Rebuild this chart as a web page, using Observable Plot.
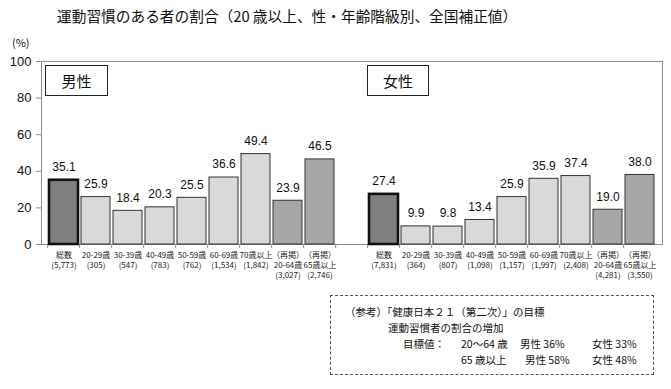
<!DOCTYPE html>
<html>
<head>
<meta charset="utf-8">
<script src="https://cdn.jsdelivr.net/npm/d3@7"></script>
<script src="https://cdn.jsdelivr.net/npm/@observablehq/plot@0.6"></script>
<style>
  html, body { margin: 0; padding: 0; background: #fff; }
  body { position: relative; width: 671px; height: 389px; overflow: hidden;
         font-family: "Noto Sans CJK JP", "Noto Sans", sans-serif; color: #111; }
  .abs { position: absolute; white-space: nowrap; }
  #title { left: 57px; top: 5px; font-size: 14.7px; line-height: 22px; }
  #unit { left: 12px; top: 35px; font-size: 11px; line-height: 14px; }
  #chart { position: absolute; left: 0; top: 0; }
  .sexbox { position: absolute; top: 65px; height: 29px; border: 1.3px solid #222;
            background: #fff; font-size: 15px; line-height: 29px; text-align: center; }
  #note { position: absolute; left: 330px; top: 295px; width: 322px; height: 78px;
          border: 1.3px dashed #555; }
  .nl { position: absolute; font-size: 10.5px; line-height: 14px; white-space: nowrap; }
</style>
</head>
<body>
<div id="title" class="abs"></div>
<div id="unit" class="abs">(%)</div>
<div id="chart"></div>
<div id="boxM" class="sexbox" style="left:45px;width:61px;"></div>
<div id="boxF" class="sexbox" style="left:367px;width:60px;"></div>
<div id="note"></div>
<script>
// ---- data ----
const title = "運動習慣のある者の割合（20 歳以上、性・年齢階級別、全国補正値）";
const sexes = ["男性", "女性"];
const ageLabels = ["総数", "20-29歳", "30-39歳", "40-49歳", "50-59歳", "60-69歳", "70歳以上", "（再掲）\n20-64歳", "（再掲）\n65歳以上"];
const ageGroups = ["total", "age", "age", "age", "age", "age", "age", "recap", "recap"];
const menN = ["5,773", "305", "547", "783", "762", "1,534", "1,842", "3,027", "2,746"];
const womenN = ["7,831", "364", "807", "1,098", "1,157", "1,997", "2,408", "4,281", "3,550"];
const menValues = [35.1, 25.9, 18.4, 20.3, 25.5, 36.6, 49.4, 23.9, 46.5];
const womenValues = [27.4, 9.9, 9.8, 13.4, 25.9, 35.9, 37.4, 19.0, 38.0];
const yTicks = [0, 20, 40, 60, 80, 100];
const noteHead = "（参考）「健康日本２１（第二次）」の目標";
const noteSub = "運動習慣者の割合の増加";
const noteLabel = "目標値：";
const targetAges = ["20～64 歳", "65 歳以上"];
const targetMen = [36, 58];
const targetWomen = [33, 48];

// ---- build table ----
const rows = [];
menValues.forEach((v, i) => rows.push({key: "M" + i, value: v, group: ageGroups[i], label: ageLabels[i] + "\n(" + menN[i] + ")"}));
const gapKey = "gap";
womenValues.forEach((v, i) => rows.push({key: "F" + i, value: v, group: ageGroups[i], label: ageLabels[i] + "\n(" + womenN[i] + ")"}));
const keys = [...menValues.map((_, i) => "M" + i), gapKey, ...womenValues.map((_, i) => "F" + i)];

const fills = {total: "#7f7f7f", age: "#d9d9d9", recap: "#a6a6a6"};
const W = 671, H = 290, ML = 41, MR = 9, MT = 61, MB = 46;
const step = (W - ML - MR) / keys.length;

const chart = Plot.plot({
  width: W, height: H,
  marginLeft: ML, marginRight: MR, marginTop: MT, marginBottom: MB,
  style: {fontFamily: "'Noto Sans CJK JP', 'Noto Sans', sans-serif", background: "transparent", color: "#111"},
  x: {type: "band", domain: keys, paddingInner: 0.08, paddingOuter: 0.04},
  y: {domain: [0, 100]},
  color: {type: "identity"},
  marks: [
    Plot.frame({stroke: "#8c8c8c", strokeWidth: 1}),
    Plot.axisY({ticks: yTicks, tickSize: 5, tickPadding: 5, fontSize: 13, stroke: "#8c8c8c", label: null, fontFamily: "'Liberation Sans', Arial, sans-serif"}),
    Plot.axisX({ticks: keys, tickSize: 4, tickFormat: () => "", dx: -step / 2, stroke: "#8c8c8c", label: null}),
    Plot.barY(rows.filter(d => d.group !== "total"), {x: "key", y: "value", fill: d => fills[d.group], stroke: "#333", strokeWidth: 1}),
    Plot.barY(rows.filter(d => d.group === "total"), {x: "key", y: "value", fill: d => fills[d.group], stroke: "#111", strokeWidth: 2.6}),
    Plot.text(rows, {x: "key", y: "value", text: d => d.value.toFixed(1), dy: -13, fontSize: 12, fill: "#111", fontFamily: "'Liberation Sans', Arial, sans-serif"}),
    Plot.text(rows, {x: "key", text: "label", frameAnchor: "bottom", lineAnchor: "top", dy: 6, fontSize: 8, lineHeight: 1.25, fill: "#222"})
  ]
});
document.getElementById("chart").appendChild(chart);

document.getElementById("title").textContent = title;
document.getElementById("boxM").textContent = sexes[0];
document.getElementById("boxF").textContent = sexes[1];

// ---- note box ----
const note = document.getElementById("note");
function addLine(text, left, top) {
  const el = document.createElement("div");
  el.className = "nl";
  el.style.left = left + "px";
  el.style.top = top + "px";
  el.textContent = text;
  note.appendChild(el);
}
// positions relative to note box (left 330, top 295)
addLine(noteHead, 14, 9);
addLine(noteSub, 57, 25);
addLine(noteLabel, 72, 41);
targetAges.forEach((a, i) => {
  const top = 41 + i * 16;
  addLine(a, 130, top);
  addLine(sexes[0] + " " + targetMen[i] + "%", 189 + (i ? 5 : 0), top);
  addLine(sexes[1] + " " + targetWomen[i] + "%", 261, top);
});
</script>
</body>
</html>
